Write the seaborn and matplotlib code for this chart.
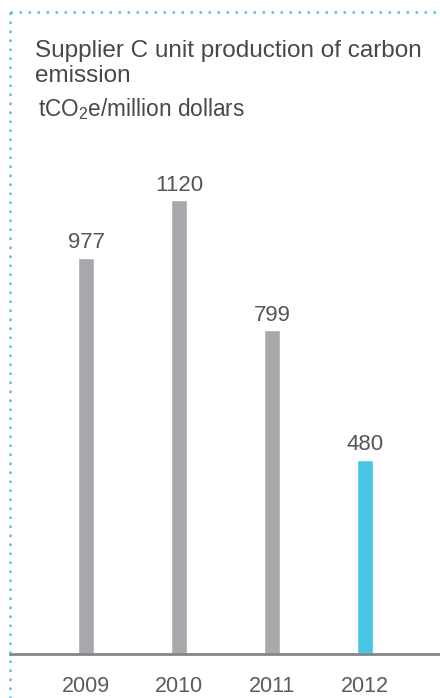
import matplotlib
matplotlib.use("Agg")
import matplotlib.pyplot as plt
from matplotlib.lines import Line2D
import seaborn as sns
import pandas as pd

years = ["2009", "2010", "2011", "2012"]
values = [977, 1120, 799, 480]
bar_colors = ["#a7a8ac", "#a7a8ac", "#a7a8ac", "#47c6e8"]

title_lines = ["Supplier C unit production of carbon", "emission"]
unit = r"tCO$_2$e/million dollars"

sns.set_theme(style="white")
plt.rcParams["font.family"] = ["Liberation Sans", "DejaVu Sans"]
plt.rcParams["mathtext.fontset"] = "custom"
plt.rcParams["mathtext.rm"] = "Liberation Sans"

W, H = 440, 698
fig = plt.figure(figsize=(W / 100, H / 100), dpi=100)
fig.patch.set_facecolor("white")

# axes spans the baseline from x=10px to the right edge
ax = fig.add_axes([10 / W, (H - 654) / H, 430 / W, 486 / H])

df = pd.DataFrame({"year": years, "value": values})
sns.barplot(data=df, x="year", y="value", hue="year", palette=bar_colors,
            width=16 / 93, legend=False, ax=ax, saturation=1)

ax.set_ylim(0, 1200)
ax.set_xlim(-76 / 93, -76 / 93 + 430 / 93)
ax.set_xlabel("")
ax.set_ylabel("")
ax.set_yticks([])
for s in ["top", "right", "left"]:
    ax.spines[s].set_visible(False)
ax.spines["bottom"].set_color("#858585")
ax.spines["bottom"].set_linewidth(2)
ax.tick_params(axis="x", length=0, pad=16, labelsize=15.5, labelcolor="#5a5a5a")

for i, v in enumerate(values):
    ax.text(i, v + 12, f"{v}", ha="center", va="bottom", fontsize=16, color="#555555")

# title block
fig.text(35 / W, 1 - 57 / H, title_lines[0], ha="left", va="baseline",
         fontsize=17.5, color="#484848")
fig.text(35 / W, 1 - 82 / H, title_lines[1], ha="left", va="baseline",
         fontsize=17.5, color="#484848")
fig.text(38 / W, 1 - 116 / H, unit, ha="left", va="baseline", fontsize=16.3,
         color="#484848")

# dotted cyan frame on top and left
dot = dict(color="#4cc4e4", lw=1.8, linestyle=(0, (1, 2.6)), transform=fig.transFigure)
fig.add_artist(Line2D([10 / W, 1], [1 - 12 / H, 1 - 12 / H], **dot))
fig.add_artist(Line2D([10 / W, 10 / W], [1 - 12 / H, 0], **dot))

fig.savefig("out.png", dpi=100)
